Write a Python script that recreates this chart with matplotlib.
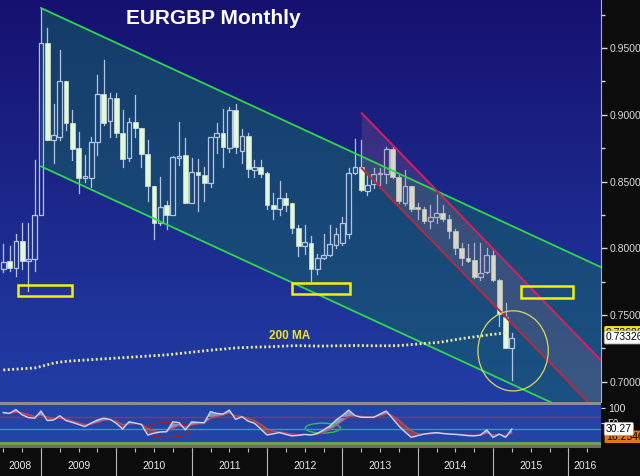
import matplotlib
matplotlib.use("Agg")
import matplotlib.pyplot as plt
import numpy as np
from matplotlib.patches import Rectangle, Ellipse, Polygon
from matplotlib.ticker import MultipleLocator

plt.rcParams['font.family'] = ['Liberation Sans', 'DejaVu Sans']

# ---------------- data ----------------
# month index: 0 = Jan 2008
months = list(range(5, 87))
opens = [0.7848, 0.7908, 0.7855, 0.8058, 0.7908, 0.7923, 0.8246, 0.9538, 0.8809, 0.8832,
         0.9252, 0.8937, 0.8749, 0.8524, 0.8524, 0.8794, 0.9155, 0.8952, 0.9124, 0.8862,
         0.8674, 0.8944, 0.8899, 0.8704, 0.8464, 0.8186, 0.8328, 0.8253, 0.8674, 0.8696,
         0.8336, 0.8569, 0.8546, 0.8486, 0.8832, 0.8862, 0.8749, 0.9034, 0.8727, 0.8839,
         0.8584, 0.8606, 0.8561, 0.8321, 0.8298, 0.8374, 0.8336, 0.8156, 0.8021, 0.8043,
         0.7848, 0.7930, 0.7953, 0.8028, 0.8043, 0.8111, 0.8561, 0.8606, 0.8426, 0.8479,
         0.8554, 0.8554, 0.8742, 0.8531, 0.8343, 0.8464, 0.8306, 0.8298, 0.8201, 0.8231,
         0.8261, 0.8216, 0.8133, 0.8006, 0.7930, 0.7915, 0.7788, 0.7825, 0.7953, 0.7765,
         0.7487, 0.7254]
highs = [0.8036, 0.8021, 0.8111, 0.8186, 0.8193, 0.8659, 0.9800, 0.9650, 0.9080, 0.9485,
         0.9252, 0.9034, 0.8869, 0.8696, 0.8832, 0.9297, 0.9410, 0.9162, 0.9162, 0.9034,
         0.8974, 0.9147, 0.8899, 0.8809, 0.8464, 0.8531, 0.8358, 0.8689, 0.8944, 0.8824,
         0.8674, 0.8666, 0.8606, 0.8832, 0.8937, 0.9042, 0.9057, 0.9080, 0.8892, 0.8862,
         0.8659, 0.8659, 0.8569, 0.8411, 0.8501, 0.8411, 0.8336, 0.8171, 0.8171, 0.8096,
         0.7960, 0.8111, 0.8171, 0.8156, 0.8231, 0.8599, 0.8817, 0.8809, 0.8561, 0.8599,
         0.8599, 0.8757, 0.8757, 0.8546, 0.8584, 0.8464, 0.8343, 0.8306, 0.8321, 0.8396,
         0.8321, 0.8246, 0.8148, 0.8043, 0.8036, 0.8043, 0.8043, 0.8006, 0.7998, 0.7773,
         0.7592, 0.7367]
lows = [0.7825, 0.7833, 0.7795, 0.7848, 0.7683, 0.7833, 0.8246, 0.8809, 0.8636, 0.8809,
        0.8884, 0.8659, 0.8411, 0.8494, 0.8456, 0.8696, 0.8922, 0.8832, 0.8832, 0.8606,
        0.8651, 0.8832, 0.8606, 0.8358, 0.8073, 0.8171, 0.8148, 0.8246, 0.8621, 0.8336,
        0.8336, 0.8283, 0.8358, 0.8456, 0.8711, 0.8606, 0.8719, 0.8711, 0.8636, 0.8531,
        0.8531, 0.8531, 0.8298, 0.8223, 0.8246, 0.8283, 0.8118, 0.7945, 0.7960, 0.7758,
        0.7810, 0.7923, 0.7945, 0.8006, 0.8028, 0.8081, 0.8554, 0.8426, 0.8396, 0.8449,
        0.8471, 0.8486, 0.8524, 0.8336, 0.8321, 0.8283, 0.8223, 0.8186, 0.8156, 0.8193,
        0.8201, 0.8081, 0.7960, 0.7878, 0.7900, 0.7780, 0.7765, 0.7818, 0.7758, 0.7420,
        0.7254, 0.7014]
closes = [0.7900, 0.7855, 0.8058, 0.7908, 0.7923, 0.8246, 0.9538, 0.8809, 0.8847, 0.9252,
          0.8937, 0.8742, 0.8524, 0.8540, 0.8794, 0.9155, 0.8937, 0.9124, 0.8862, 0.8666,
          0.8944, 0.8899, 0.8704, 0.8464, 0.8186, 0.8313, 0.8253, 0.8681, 0.8689, 0.8336,
          0.8569, 0.8546, 0.8486, 0.8832, 0.8862, 0.8757, 0.9034, 0.8757, 0.8839, 0.8591,
          0.8606, 0.8554, 0.8321, 0.8298, 0.8374, 0.8328, 0.8156, 0.8021, 0.8051, 0.7848,
          0.7930, 0.7953, 0.8036, 0.8111, 0.8186, 0.8561, 0.8606, 0.8434, 0.8471, 0.8554,
          0.8561, 0.8742, 0.8531, 0.8351, 0.8464, 0.8298, 0.8298, 0.8201, 0.8238, 0.8261,
          0.8216, 0.8133, 0.8006, 0.7930, 0.7908, 0.7788, 0.7818, 0.7953, 0.7765, 0.7510,
          0.7254, 0.7330]

ma_months = list(range(5, 86))
ma200 = [0.7089, 0.7092, 0.7095, 0.7098, 0.7101, 0.7104, 0.7115, 0.7128, 0.7140, 0.7148,
         0.7153, 0.7157, 0.7160, 0.7163, 0.7166, 0.7169, 0.7172, 0.7175, 0.7178, 0.7181,
         0.7184, 0.7187, 0.7190, 0.7193, 0.7196, 0.7199, 0.7202, 0.7207, 0.7212, 0.7217,
         0.7222, 0.7227, 0.7232, 0.7237, 0.7241, 0.7245, 0.7250, 0.7254, 0.7256, 0.7258,
         0.7260, 0.7261, 0.7262, 0.7264, 0.7266, 0.7268, 0.7270, 0.7271, 0.7270, 0.7269,
         0.7268, 0.7268, 0.7269, 0.7270, 0.7270, 0.7271, 0.7272, 0.7272, 0.7271, 0.7270,
         0.7270, 0.7270, 0.7271, 0.7272, 0.7275, 0.7279, 0.7283, 0.7287, 0.7290, 0.7294,
         0.7300, 0.7308, 0.7316, 0.7323, 0.7330, 0.7337, 0.7343, 0.7350, 0.7356, 0.7361,
         0.7367]

rsi = [85, 82, 95, 77, 68, 66, 90, 58, 60, 74, 58, 52, 45, 38, 50, 60, 66, 62, 49, 30,
       54, 50, 45, 10, 16, 20, 21, 54, 51, 27, 54, 52, 51, 88, 82, 80, 93, 62, 71, 56,
       49, 30, 10, 14, 18, 12, 7, 9, 12, 10, 15, 27, 40, 60, 75, 93, 75, 69, 69, 69,
       80, 90, 65, 40, 20, 2, 8, 13, 16, 18, 15, 13, 12, 10, 8, 7, 10, 27, 2, 13,
       2, 30]
rsi_signal = [82, 83, 86, 84, 78, 72, 76, 70, 64, 66, 63, 57, 51, 45, 46, 52, 59, 61, 56, 45,
              47, 48, 47, 32, 24, 21, 21, 33, 41, 36, 43, 47, 49, 65, 72, 76, 83, 74, 72, 65,
              58, 46, 31, 23, 20, 17, 13, 11, 11, 11, 12, 18, 27, 41, 56, 72, 74, 72, 70, 70,
              74, 81, 74, 60, 42, 24, 15, 13, 14, 16, 16, 15, 13, 12, 10, 9, 9, 16, 11, 12,
              8, 16]

price_ticks = [0.70, 0.75, 0.80, 0.85, 0.90, 0.95]
year_labels = ['2008', '2009', '2010', '2011', '2012', '2013', '2014', '2015', '2016']
year_bounds = [11, 23, 35, 47, 59, 71, 83, 95]

green_upper = [(11, 0.9800), (100.2, 0.7859)]
green_lower = [(11, 0.8614), (100.2, 0.6673)]
red_upper = [(62.1, 0.9012), (100.2, 0.7161)]
red_lower = [(62.1, 0.8599), (100.2, 0.6748)]
boxes = [(7.3, 15.9, 0.7645, 0.7728), (51.0, 60.2, 0.7660, 0.7743), (87.4, 95.7, 0.7630, 0.7720)]
circle = (86.2, 0.7232, 11.2, 0.060)
last_price = 0.73326
prev_label = 0.73686
rsi_last = 30.27

XMIN, XMAX = 4.47, 100.2
YMIN, YMAX = 0.6849, 0.986

# ---------------- figure ----------------
W, H = 640, 476
fig = plt.figure(figsize=(W / 100, H / 100), dpi=100, facecolor='#0c0c0c')

def fy(px):
    return 1 - px / H

pw = 601 / W
ax = fig.add_axes([0, fy(402), pw, 402 / H])
ax_r = fig.add_axes([0, fy(442), pw, 37 / H])
ax_x = fig.add_axes([0, 0, pw, 28 / H])

# background gradient
top = np.array([22, 17, 112]) / 255
bot = np.array([33, 62, 165]) / 255
t = np.linspace(0, 1, 256)[:, None]
grad = (top[None, :] * (1 - t) + bot[None, :] * t)[:, None, :]
ax.imshow(grad, extent=[0, 1, 0, 1], transform=ax.transAxes, aspect='auto', zorder=0)
ax.set_xlim(XMIN, XMAX)
ax.set_ylim(YMIN, YMAX)

# green channel
gpoly = Polygon([green_upper[0], green_upper[1], green_lower[1], green_lower[0]], closed=True,
                facecolor='#156662', alpha=0.5, edgecolor='none', zorder=1)
ax.add_patch(gpoly)
for ln in (green_upper, green_lower):
    ax.plot([ln[0][0], ln[1][0]], [ln[0][1], ln[1][1]], color='#2fd84a', lw=1.3, zorder=5)

# candles
bw = 0.75
wick_c = '#b4c4e4'
body_c = '#e4f6dc'
for m, o, h, l, c in zip(months, opens, highs, lows, closes):
    if c >= o:
        ax.add_patch(Rectangle((m - bw / 2, o), bw, max(c - o, 0.0004), fill=False,
                               edgecolor=wick_c, lw=0.9, zorder=3))
        ax.plot([m, m], [c, h], color=wick_c, lw=0.9, zorder=3)
        ax.plot([m, m], [l, o], color=wick_c, lw=0.9, zorder=3)
    else:
        ax.plot([m, m], [l, h], color=wick_c, lw=0.9, zorder=3)
        ax.add_patch(Rectangle((m - bw / 2, c), bw, o - c, facecolor=body_c,
                               edgecolor='#d0e4d0', lw=0.5, zorder=3.2))

# red channel
rpoly = Polygon([red_upper[0], red_upper[1], red_lower[1], red_lower[0]], closed=True,
                facecolor='#a86888', alpha=0.22, edgecolor='none', zorder=4)
ax.add_patch(rpoly)
ax.plot([red_upper[0][0], red_upper[1][0]], [red_upper[0][1], red_upper[1][1]],
        color='#d8205e', lw=1.4, zorder=5)
ax.plot([red_lower[0][0], red_lower[1][0]], [red_lower[0][1], red_lower[1][1]],
        color='#b82a40', lw=1.4, zorder=5)

# 200 MA
ax.plot(ma_months, ma200, color='#ecec9a', lw=2.0, linestyle=(0, (0.7, 0.9)), zorder=6)
ax.text(50.6, 0.7345, '200 MA', color='#f0e030', fontsize=8.5, fontweight='bold',
        ha='center', va='center', zorder=7)

# yellow boxes
for x0, x1, y0, y1 in boxes:
    ax.add_patch(Rectangle((x0, y0), x1 - x0, y1 - y0, fill=False, edgecolor='#f2f200',
                           lw=1.8, zorder=7))
ax.add_patch(Ellipse((circle[0], circle[1]), circle[2], circle[3], fill=False,
                     edgecolor='#d8d860', lw=0.9, zorder=7))

# right axis
ax.yaxis.tick_right()
ax.set_yticks(price_ticks)
ax.set_yticklabels([f'{v:.5f}' for v in price_ticks])
ax.yaxis.set_minor_locator(MultipleLocator(0.025))
ax.tick_params(axis='y', which='major', colors='#d8d8d8', labelsize=7.5, length=4, width=1,
               direction='out', pad=2)
ax.tick_params(axis='y', which='minor', colors='#d8d8d8', length=3, width=1, direction='out')
ax.set_xticks([])
for s in ('top', 'left', 'bottom'):
    ax.spines[s].set_visible(False)
ax.spines['right'].set_color('#b0b0b0')

ytr = ax.get_yaxis_transform()
ax.text(1.008, prev_label, f'{prev_label:.5f}', transform=ytr, fontsize=7.5, color='black',
        ha='left', va='center', clip_on=False, zorder=8,
        bbox=dict(boxstyle='round,pad=0.15', fc='#f0e020', ec='none'))
ax.text(1.008, last_price, f'{last_price:.5f}', transform=ytr, fontsize=7.5, color='black',
        ha='left', va='center', clip_on=False, zorder=9,
        bbox=dict(boxstyle='round,pad=0.15', fc='white', ec='#a0a0a0', lw=0.6))

fig.text(213 / W, fy(19), 'EURGBP Monthly', color='white', fontsize=15, fontweight='bold',
         ha='center', va='center')

# separators
fig.patches.append(Rectangle((0, fy(405)), pw, 3 / H, transform=fig.transFigure,
                             facecolor='#8d8d96', edgecolor='none'))
fig.patches.append(Rectangle((0, fy(445)), pw, 3 / H, transform=fig.transFigure,
                             facecolor='#6f9f5a', edgecolor='none'))
fig.patches.append(Rectangle((0, fy(448)), pw, 3 / H, transform=fig.transFigure,
                             facecolor='#6b6b60', edgecolor='none'))

# RSI panel
ax_r.set_facecolor('#2343a6')
ax_r.set_xlim(XMIN, XMAX)
ax_r.set_ylim(-13.3, 110)
r = np.array(rsi, float)
s = np.array(rsi_signal, float)
ax_r.fill_between(months, r, s, where=r >= s, interpolate=True, color='#d0d8ec', alpha=0.55, lw=0)
ax_r.fill_between(months, r, s, where=r < s, interpolate=True, color='#b04050', alpha=0.75, lw=0)
ax_r.axhline(70, color='#b02a3c', lw=1)
ax_r.axhline(30, color='#20a8a0', lw=1)
ax_r.plot(months, rsi_signal, color='#c04a58', lw=0.9)
ax_r.plot(months, rsi, color='#c8d8f4', lw=1.0)
ax_r.add_patch(Ellipse((31.2, 27), 7.5, 50, fill=False, edgecolor='#a02030', lw=1))
ax_r.add_patch(Ellipse((55.9, 33), 5.6, 33, fill=False, edgecolor='#30c050', lw=1))
ax_r.set_xticks([])
ax_r.yaxis.tick_right()
ax_r.set_yticks([100, 50])
ax_r.set_yticklabels(['100', '50'])
ax_r.tick_params(axis='y', colors='#e0e0e0', labelsize=7.5, length=3, pad=2)
for sp in ax_r.spines.values():
    sp.set_visible(False)
rtr = ax_r.get_yaxis_transform()
ax_r.text(1.008, 4, '16.2546', transform=rtr, fontsize=7.5, color='black', ha='left',
          va='center', clip_on=False, zorder=8,
          bbox=dict(boxstyle='round,pad=0.12', fc='#e07818', ec='none'))
ax_r.text(1.008, rsi_last, f'{rsi_last:.2f}', transform=rtr, fontsize=7.5, color='black',
          ha='left', va='center', clip_on=False, zorder=9,
          bbox=dict(boxstyle='round,pad=0.15', fc='white', ec='#a0a0a0', lw=0.6))

# bottom time axis
ax_x.set_facecolor('#0c0c0c')
ax_x.set_xlim(XMIN, XMAX)
ax_x.set_ylim(0, 1)
ax_x.axis('off')
ax_x.add_patch(Rectangle((0, 0), 1, 1, transform=ax_x.transAxes, facecolor='#0c0c0c',
                         edgecolor='none', zorder=0))
ax_x.vlines(year_bounds, 0, 1, color='#b8b8b8', lw=0.8)
quarters = np.arange(2, 101, 3)
ax_x.vlines(quarters, 0.84, 1.0, color='#b8b8b8', lw=0.8)
edges = [XMIN] + year_bounds + [XMAX]
for lab, a, b in zip(year_labels, edges[:-1], edges[1:]):
    ax_x.text((a + b) / 2, 0.36, lab, color='#e8e8e8', fontsize=7.5, ha='center', va='center')

fig.savefig('out.png', dpi=100, facecolor=fig.get_facecolor())
